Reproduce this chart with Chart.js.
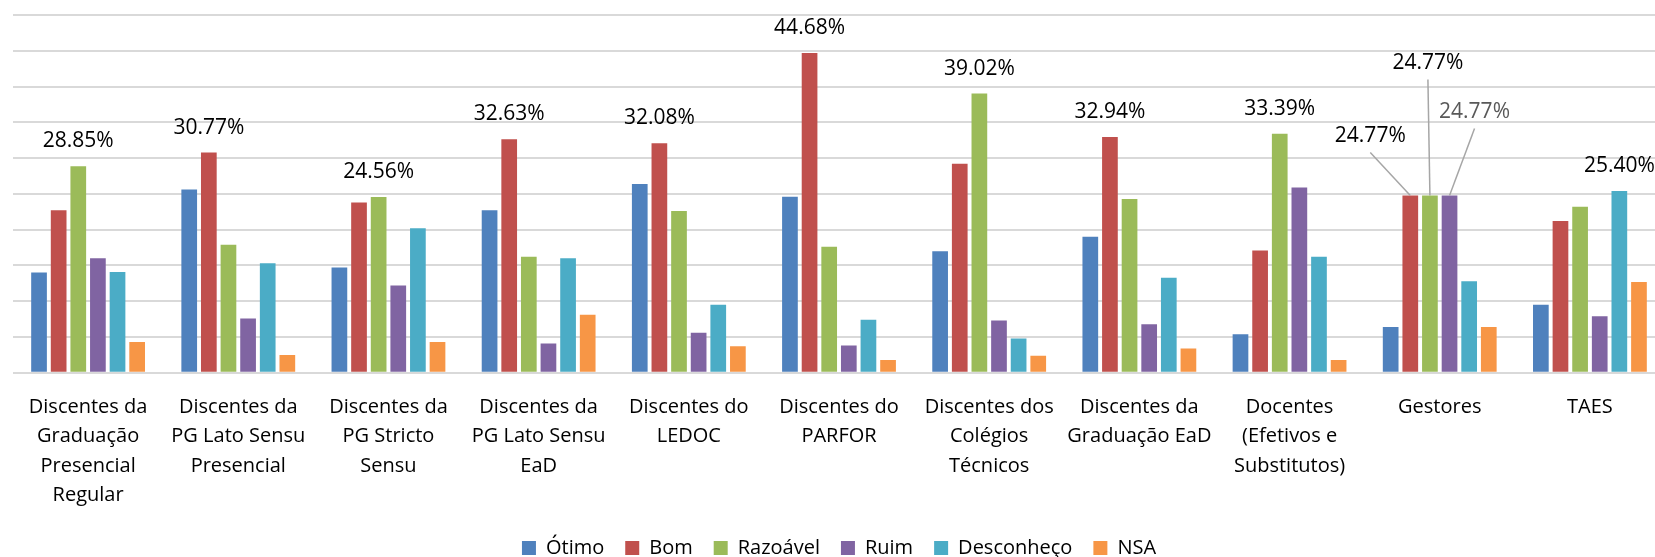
<!DOCTYPE html>
<html>
<head>
<meta charset="utf-8">
<script src="https://cdn.jsdelivr.net/npm/chart.js"></script>
<style>
  body { margin: 0; overflow: hidden; background: #fff; }
  #wrap { width: 1665px; height: 557px; }
</style>
</head>
<body>
<div id="wrap"><canvas id="chart"></canvas></div>
<script>
const categories = [
    ["Discentes da", "Graduação", "Presencial", "Regular"],
    ["Discentes da", "PG Lato Sensu", "Presencial"],
    ["Discentes da", "PG Stricto", "Sensu"],
    ["Discentes da", "PG Lato Sensu", "EaD"],
    ["Discentes do", "LEDOC"],
    ["Discentes do", "PARFOR"],
    ["Discentes dos", "Colégios", "Técnicos"],
    ["Discentes da", "Graduação EaD"],
    ["Docentes", "(Efetivos e", "Substitutos)"],
    ["Gestores"],
    ["TAES"]
];

const seriesNames = ["Ótimo", "Bom", "Razoável", "Ruim", "Desconheço", "NSA"];

const otimo      = [14.0, 25.6, 14.7, 22.7, 26.4, 24.6, 17.0, 19.0, 5.4, 6.4, 9.5];
const bom        = [22.7, 30.77, 23.8, 32.63, 32.08, 44.68, 29.2, 32.94, 17.1, 24.77, 21.2];
const razoavel   = [28.85, 17.9, 24.56, 16.2, 22.6, 17.6, 39.02, 24.3, 33.39, 24.77, 23.2];
const ruim       = [16.0, 7.6, 12.2, 4.1, 5.6, 3.8, 7.3, 6.8, 25.9, 24.77, 7.9];
const desconheco = [14.1, 15.3, 20.2, 16.0, 9.5, 7.4, 4.8, 13.3, 16.2, 12.8, 25.40];
const nsa        = [4.3, 2.5, 4.3, 8.1, 3.7, 1.8, 2.4, 3.4, 1.8, 6.4, 12.7];

const seriesValues = [otimo, bom, razoavel, ruim, desconheco, nsa];
const colors = ["#4F81BD", "#C0504D", "#9BBB59", "#8064A2", "#4BACC6", "#F79646"];

// where the tied labels go (Gestores), relative to the top of their bar
const leaderOffsets = {
    1: { dx: -40, dy: -60, color: "#000000" },
    2: { dx: -2, dy: -133, color: "#000000" },
    3: { dx: 25, dy: -84, color: "#595959" }
};

const FONT = "'Open Sans', sans-serif";

const barLabels = {
    id: "barLabels",
    afterDatasetsDraw(chart) {
        const ctx = chart.ctx;
        ctx.save();
        ctx.font = "21px " + FONT;
        ctx.textAlign = "center";
        ctx.textBaseline = "middle";
        categories.forEach((c, i) => {
            const vals = seriesValues.map(s => s[i]);
            const max = Math.max(...vals);
            const tops = vals.map((v, k) => v === max ? k : -1).filter(k => k >= 0);
            tops.forEach(k => {
                const bar = chart.getDatasetMeta(k).data[i];
                const text = vals[k].toFixed(2) + "%";
                if (tops.length === 1) {
                    ctx.fillStyle = "#000000";
                    ctx.fillText(text, bar.x, bar.y - 25);
                } else {
                    const o = leaderOffsets[k];
                    ctx.strokeStyle = "#a6a6a6";
                    ctx.lineWidth = 1.5;
                    ctx.beginPath();
                    ctx.moveTo(bar.x + o.dx, bar.y + o.dy + 17);
                    ctx.lineTo(bar.x, bar.y);
                    ctx.stroke();
                    ctx.fillStyle = o.color;
                    ctx.fillText(text, bar.x + o.dx, bar.y + o.dy);
                }
            });
        });
        ctx.restore();
    }
};

new Chart(document.getElementById("chart"), {
    type: "bar",
    data: {
        labels: categories,
        datasets: seriesNames.map((name, k) => ({
            label: name,
            data: seriesValues[k],
            backgroundColor: colors[k],
            barPercentage: 0.8,
            categoryPercentage: 0.784
        }))
    },
    options: {
        responsive: true,
        maintainAspectRatio: false,
        animation: false,
        layout: { padding: { top: 15, left: 13, right: 0, bottom: -11 } },
        plugins: {
            legend: {
                position: "bottom",
                labels: {
                    font: { family: FONT, size: 20 },
                    color: "#000000",
                    boxWidth: 14,
                    boxHeight: 14,
                    padding: 21
                }
            },
            tooltip: { enabled: false }
        },
        scales: {
            x: {
                grid: { display: false, drawTicks: false },
                border: { display: false },
                ticks: {
                    color: "#000000",
                    font: { family: FONT, size: 20, lineHeight: 1.465 },
                    padding: 20,
                    maxRotation: 0,
                    autoSkip: false
                },
                afterFit: s => { s.height -= 13; }
            },
            y: {
                min: 0,
                max: 50,
                ticks: { display: false, stepSize: 5 },
                grid: { color: "#d9d9d9", lineWidth: 2, drawTicks: false },
                border: { display: false },
                afterFit: s => { s.width = 0; }
            }
        }
    },
    plugins: [barLabels]
});
</script>
</body>
</html>
